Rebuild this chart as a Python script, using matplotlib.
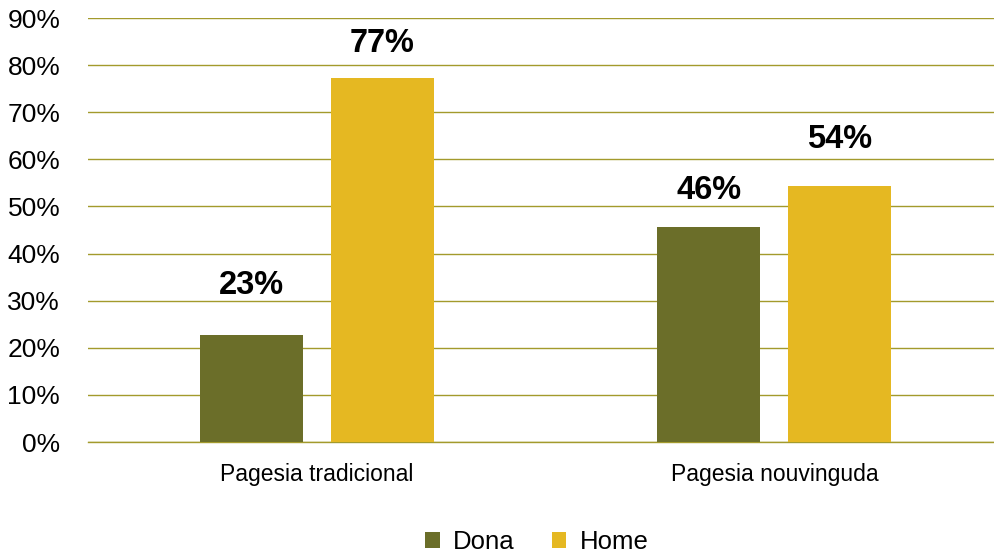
import matplotlib
matplotlib.use("Agg")
import matplotlib.pyplot as plt
import numpy as np

categories = ["Pagesia tradicional", "Pagesia nouvinguda"]
series_names = ["Dona", "Home"]
dona = [22.7, 45.6]
home = [77.3, 54.4]
labels_dona = ["23%", "46%"]
labels_home = ["77%", "54%"]
yticks = [0, 10, 20, 30, 40, 50, 60, 70, 80, 90]

# vertical offsets of the value labels above the bars (data units)
off_dona = [8.7, 6.0]
off_home = [5.5, 8.0]

c_dona = "#6b6e29"
c_home = "#e5b822"
grid_c = "#a39a2c"

plt.rcParams['font.family'] = ['Liberation Sans', 'DejaVu Sans']

fig = plt.figure(figsize=(9.94, 5.54), dpi=100)
ax = fig.add_axes([88/994, 1-442/554, 1-88/994, (442-18)/554])

x = np.arange(len(categories))
w = 0.225
off = 0.143
b1 = ax.bar(x - off, dona, w, color=c_dona, label=series_names[0], zorder=3)
b2 = ax.bar(x + off, home, w, color=c_home, label=series_names[1], zorder=3)

for rect, lab, o in zip(b1, labels_dona, off_dona):
    ax.text(rect.get_x() + rect.get_width()/2, rect.get_height() + o, lab,
            ha='center', va='baseline', fontsize=23.5, fontweight='bold', zorder=4)
for rect, lab, o in zip(b2, labels_home, off_home):
    ax.text(rect.get_x() + rect.get_width()/2, rect.get_height() + o, lab,
            ha='center', va='baseline', fontsize=23.5, fontweight='bold', zorder=4)

ax.set_ylim(0, 90)
ax.set_xlim(-0.5, 1.48)
ax.set_yticks(yticks)
ax.set_yticklabels([f"{v}%" for v in yticks], fontsize=19)
ax.set_xticks(x)
ax.set_xticklabels(categories, fontsize=16.5)
ax.tick_params(axis='y', length=0, pad=20)
ax.tick_params(axis='x', length=0, pad=15)
ax.yaxis.grid(True, color=grid_c, linewidth=1.0, zorder=0)
ax.set_axisbelow(True)
for s in ['top', 'right', 'left']:
    ax.spines[s].set_visible(False)
ax.spines['bottom'].set_color(grid_c)
ax.spines['bottom'].set_linewidth(1.0)

leg = fig.legend(handles=[b1, b2], labels=series_names, loc='center',
                 bbox_to_anchor=(537/994, 1-542/554), ncol=2, frameon=False,
                 fontsize=18.5, handlelength=0.56, handleheight=0.56,
                 handletextpad=0.52, columnspacing=1.45)

fig.savefig("out.png", dpi=100)
